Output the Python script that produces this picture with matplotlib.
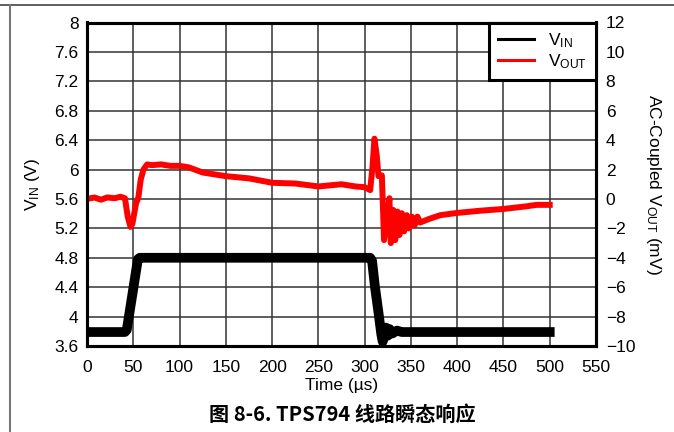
import matplotlib
matplotlib.use("Agg")
import matplotlib.pyplot as plt
from matplotlib.lines import Line2D

plt.rcParams['font.family'] = ['Liberation Sans', 'DejaVu Sans']
plt.rcParams['mathtext.fontset'] = 'custom'
plt.rcParams['mathtext.rm'] = 'Liberation Sans'

# Input voltage step (V) versus time (µs)
t_in = [0, 20, 41, 43, 55, 57, 100, 200, 306, 308, 311, 315, 318, 319.5, 321,
        323, 325, 327, 330, 335, 340, 400, 500]
v_in = [3.79, 3.79, 3.79, 3.82, 4.78, 4.80, 4.80, 4.80, 4.80, 4.76, 4.42, 4.05,
        3.76, 3.66, 3.72, 3.85, 3.74, 3.83, 3.77, 3.81, 3.79, 3.79, 3.79]

# AC-coupled output voltage (mV) versus time (µs)
t_out = [0, 8, 15, 22, 30, 36, 41, 44, 47, 49, 51, 53, 55.5, 58, 61, 65, 70,
         80, 90, 100, 110, 125, 150, 175, 200, 225, 250, 275, 290, 300, 306,
         308.5, 310.6, 313, 315, 318.6, 321, 324, 326.8, 328.3, 331, 333,
         335.5, 337.6, 340.2, 342.7, 345.5, 348, 351, 354, 357, 360, 370, 382,
         400, 425, 450, 475, 486, 500]
v_out = [0.0, 0.1, -0.05, 0.1, 0.05, 0.15, 0.05, -1.2, -1.9, -1.7, -1.0, -0.3,
         0.1, 1.3, 2.0, 2.35, 2.3, 2.35, 2.25, 2.25, 2.15, 1.8, 1.55, 1.4, 1.1,
         1.05, 0.85, 1.0, 0.85, 0.8, 0.6, 2.2, 4.1, 3.0, 1.55, 1.6, -2.8, -1.4,
         0.05, -3.0, -0.75, -2.8, -0.86, -2.45, -0.97, -2.2, -1.1, -2.0, -1.2,
         -1.8, -1.2, -1.6, -1.35, -1.1, -0.95, -0.8, -0.68, -0.5, -0.4, -0.4]

x_ticks = list(range(0, 551, 50))
vin_ticks = [3.6, 4.0, 4.4, 4.8, 5.2, 5.6, 6.0, 6.4, 6.8, 7.2, 7.6, 8.0]
vin_labels = ['3.6', '4', '4.4', '4.8', '5.2', '5.6', '6', '6.4', '6.8', '7.2', '7.6', '8']
vout_ticks = list(range(-10, 13, 2))

FS = 12.5

fig = plt.figure(figsize=(6.74, 4.32), dpi=100)
ax = fig.add_axes([87 / 674, 1 - 346 / 432, (596 - 87) / 674, (346 - 22.5) / 432])
ax2 = ax.twinx()

ax.set_xlim(0, 550)
ax.set_ylim(3.6, 8.0)
ax2.set_ylim(-10, 12)

ax.set_xticks(x_ticks)
ax.set_yticks(vin_ticks)
ax.set_yticklabels(vin_labels)
ax2.set_yticks(vout_ticks)

ax.grid(True, color='#333333', linewidth=1.1)
ax.set_axisbelow(True)

ax.tick_params(axis='x', length=0, labelsize=FS, pad=10, colors='black')
ax.tick_params(axis='y', length=0, labelsize=FS, pad=6, colors='black')
ax2.tick_params(axis='y', length=0, labelsize=FS, pad=7, colors='black')
for a in (ax, ax2):
    for s in a.spines.values():
        s.set_linewidth(2.2)
        s.set_color('black')

ax.plot(t_in, v_in, color='black', linewidth=7.0, solid_joinstyle='round')
ax2.plot(t_out, v_out, color='#ff0000', linewidth=4.3, solid_joinstyle='round')

ax.set_xlabel('Time (µs)', fontsize=FS, labelpad=2)
ax.set_ylabel(r'$\mathrm{V_{IN}}$ (V)', fontsize=FS, labelpad=9)
ax2.set_ylabel(r'AC-Coupled $\mathrm{V_{OUT}}$ (mV)', fontsize=FS,
               rotation=270, labelpad=20)

handles = [Line2D([], [], color='black', linewidth=2.2),
           Line2D([], [], color='#ff0000', linewidth=2.2)]
leg = ax2.legend(handles, [r'$\mathrm{V_{IN}}$', r'$\mathrm{V_{OUT}}$'],
                 loc='upper right', borderaxespad=0, fontsize=FS,
                 fancybox=False, framealpha=1, edgecolor='black',
                 handlelength=2.1, handletextpad=0.8, labelspacing=0.15,
                 borderpad=0.5)
leg.get_frame().set_linewidth(2.2)

# Page frame lines
fig.add_artist(Line2D([0, 1], [1 - 4.5 / 432] * 2, color='#444444', linewidth=1.2))
fig.add_artist(Line2D([10 / 674] * 2, [0, 1 - 4.5 / 432], color='#777777', linewidth=1.5))

fig.text(342 / 674, 1 - 414 / 432, '图 8-6. TPS794 线路瞬态响应',
         ha='center', va='center', fontsize=14.5, fontweight='bold',
         family=['Noto Sans CJK SC', 'DejaVu Sans'])

fig.savefig('out.png', dpi=100)
